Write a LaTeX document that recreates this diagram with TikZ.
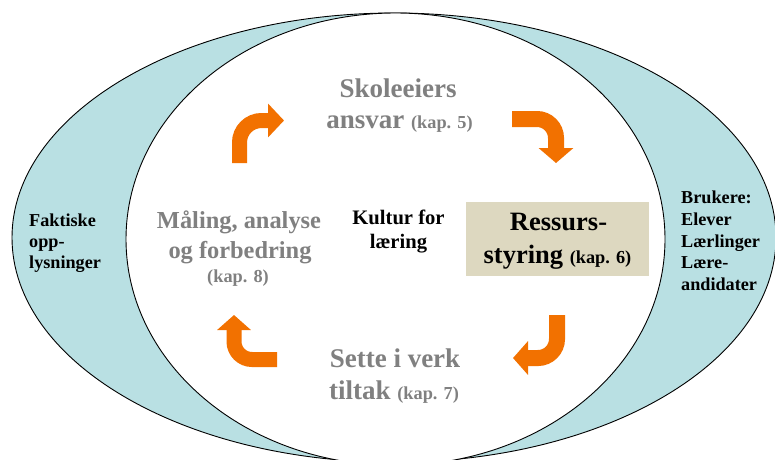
\documentclass[tikz,border=0pt]{standalone}
\usepackage{fontspec}
\setmainfont{Liberation Serif}
\usetikzlibrary{arrows.meta}
\definecolor{ringblue}{RGB}{185,224,227}
\definecolor{boxbeige}{RGB}{221,216,192}
\definecolor{arrorange}{RGB}{242,113,0}
\definecolor{txtgray}{RGB}{128,128,128}
\newcommand\kapf{\fontsize{18.3}{21}\selectfont}
\begin{document}
\begin{tikzpicture}[x=1pt,y=-1pt,
  glbig/.style={text=txtgray, font=\bfseries\fontsize{27}{32}\selectfont, anchor=base, inner sep=0pt},
  glmid/.style={text=txtgray, font=\bfseries\fontsize{24.4}{29}\selectfont, anchor=base, inner sep=0pt},
  blkres/.style={text=black, font=\bfseries\fontsize{26.5}{31}\selectfont, anchor=base, inner sep=0pt},
  blkmid/.style={text=black, font=\bfseries\fontsize{20.6}{24}\selectfont, anchor=base, inner sep=0pt},
  blksmall/.style={text=black, font=\bfseries\fontsize{18.2}{21}\selectfont, anchor=base west, inner sep=0pt},
  turn/.style={draw=arrorange, line width=#1, line cap=butt},
  resbox/.style={fill=boxbeige, draw=none, minimum width=183pt, minimum height=74pt, inner sep=0pt}
]
\useasboundingbox (0,0) rectangle (775,459);
\clip (0,0) rectangle (775,459);
% rings
\filldraw[fill=ringblue, draw=black, line width=0.9pt] (394,237.6) ellipse [x radius=382, y radius=224.6];
\filldraw[fill=white, draw=black, line width=0.9pt] (395.5,239.2) ellipse [x radius=269.5, y radius=226.2];

% resource box
\node[resbox] (rbox) at (557.5,239) {};

% texts
\node[glbig] (sk1) at (398,97) {Skoleeiers};
\node[glbig] (sk2) at (399.5,128.3) {ansvar {\kapf (kap. 5)}};

\node[glmid] (ma1) at (239,228) {Måling, analyse};
\node[glmid] (ma2) at (240,258.3) {og forbedring};
\node[text=txtgray, font=\bfseries\kapf, anchor=base, inner sep=0pt] (ma3) at (238,282) {(kap. 8)};

\node[blkmid] (ku1) at (398.5,224) {Kultur for};
\node[blkmid] (ku2) at (398.5,248) {læring};

\node[blkres] (re1) at (558.5,230) {Ressurs-};
\node[blkres] (re2) at (557.5,263.3) {styring {\kapf (kap. 6)}};

\node[glbig] (se1) at (395,367.5) {Sette i verk};
\node[glbig] (se2) at (394,399) {tiltak {\kapf (kap. 7)}};

\node[blksmall] (fa1) at (29,226) {Faktiske};
\node[blksmall] (fa2) at (29,247) {opp-};
\node[blksmall] (fa3) at (29,268) {lysninger};

\node[blksmall] (br1) at (681,203.5) {Brukere:};
\node[blksmall] (br2) at (681,225.25) {Elever};
\node[blksmall] (br3) at (681,247) {Lærlinger};
\node[blksmall] (br4) at (681,268.75) {Lære-};
\node[blksmall] (br5) at (681,290.5) {andidater};

% cycle arrows
\coordinate (a1s) at (239.5,163);
\coordinate (a1c) at (239.5,120.5);
\coordinate (a1e) at (284,120.5);
\draw[turn=15pt, rounded corners=22pt, -{Triangle[length=16pt,width=33pt]}] (a1s) -- (a1c) -- (a1e);

\coordinate (a2s) at (512,119);
\coordinate (a2c) at (556,119);
\coordinate (a2e) at (556,163);
\draw[turn=16pt, rounded corners=19pt, -{Triangle[length=15pt,width=34pt]}] (a2s) -- (a2c) -- (a2e);

\coordinate (a3s) at (557,315);
\coordinate (a3c) at (557,358);
\coordinate (a3e) at (513,358);
\draw[turn=16pt, rounded corners=19pt, -{Triangle[length=15pt,width=33pt]}] (a3s) -- (a3c) -- (a3e);

\coordinate (a4s) at (277,359.5);
\coordinate (a4c) at (234,359.5);
\coordinate (a4e) at (234,315);
\draw[turn=15pt, rounded corners=18pt, -{Triangle[length=15pt,width=33pt]}] (a4s) -- (a4c) -- (a4e);
\end{tikzpicture}
\end{document}
